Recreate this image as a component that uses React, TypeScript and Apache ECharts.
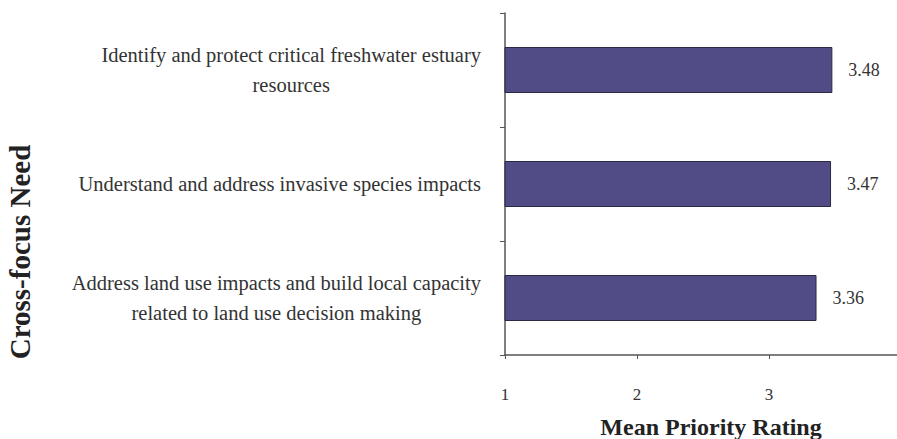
import React, { useEffect, useRef } from "react";
import * as echarts from "echarts";

const categories = [
  "Address land use impacts and build local capacity\nrelated to land use decision making",
  "Understand and address invasive species impacts",
  "Identify and protect critical freshwater estuary\nresources",
];
const values = [3.36, 3.47, 3.48];
const xTicks = [1, 2, 3, 4];

const FONT = "'Liberation Serif', 'DejaVu Serif', serif";

export default function App() {
  const ref = useRef<HTMLDivElement>(null);
  useEffect(() => {
    document.body.style.margin = "0";
    const chart = echarts.init(ref.current!, null, { renderer: "svg" });
    chart.setOption({
      animation: false,
      backgroundColor: "#ffffff",
      grid: {
        left: 505,
        top: 13,
        width: 396,
        height: 342,
        containLabel: false,
        outerBoundsMode: "none",
      },
      xAxis: {
        type: "value",
        min: xTicks[0],
        max: xTicks[xTicks.length - 1],
        interval: 1,
        splitLine: { show: false },
        axisLine: { show: true, lineStyle: { color: "#555", width: 1.5 } },
        axisTick: { show: true, length: 4, lineStyle: { color: "#555" } },
        axisLabel: {
          margin: 31,
          color: "#333",
          fontFamily: FONT,
          fontSize: 17,
          showMaxLabel: false,
        },
        name: "Mean Priority Rating",
        nameLocation: "middle",
        nameGap: 60,
        nameTextStyle: {
          fontFamily: FONT,
          fontSize: 24,
          fontWeight: "bold",
          color: "#222",
          padding: [0, 0, 0, 16],
        },
      },
      yAxis: {
        type: "category",
        data: categories,
        axisLine: { show: true, lineStyle: { color: "#555", width: 1.5 } },
        axisTick: { show: true, length: 5, lineStyle: { color: "#555" } },
        axisLabel: {
          margin: 24,
          align: "right",
          formatter: (v: string) =>
            v
              .split("\n")
              .map((s) => "{a|" + s + "}")
              .join("\n"),
          rich: {
            a: {
              align: "center",
              fontFamily: FONT,
              fontSize: 20.5,
              color: "#333",
              lineHeight: 30,
            },
          },
        },
      },
      graphic: [
        {
          type: "text",
          x: 20,
          y: 252,
          rotation: Math.PI / 2,
          style: {
            text: "Cross-focus Need",
            font: "bold 29px " + FONT,
            fill: "#222",
            align: "center",
            verticalAlign: "middle",
          },
        },
      ],
      series: [
        {
          type: "bar",
          data: values,
          barWidth: 46,
          itemStyle: { color: "#514c86", borderColor: "#2b2a45", borderWidth: 1 },
          label: {
            show: true,
            position: "right",
            distance: 16,
            formatter: (p: any) => p.value.toFixed(2),
            fontFamily: FONT,
            fontSize: 18,
            color: "#333",
          },
        },
      ],
    });
    return () => chart.dispose();
  }, []);
  return <div ref={ref} style={{ width: 897, height: 439 }} />;
}
